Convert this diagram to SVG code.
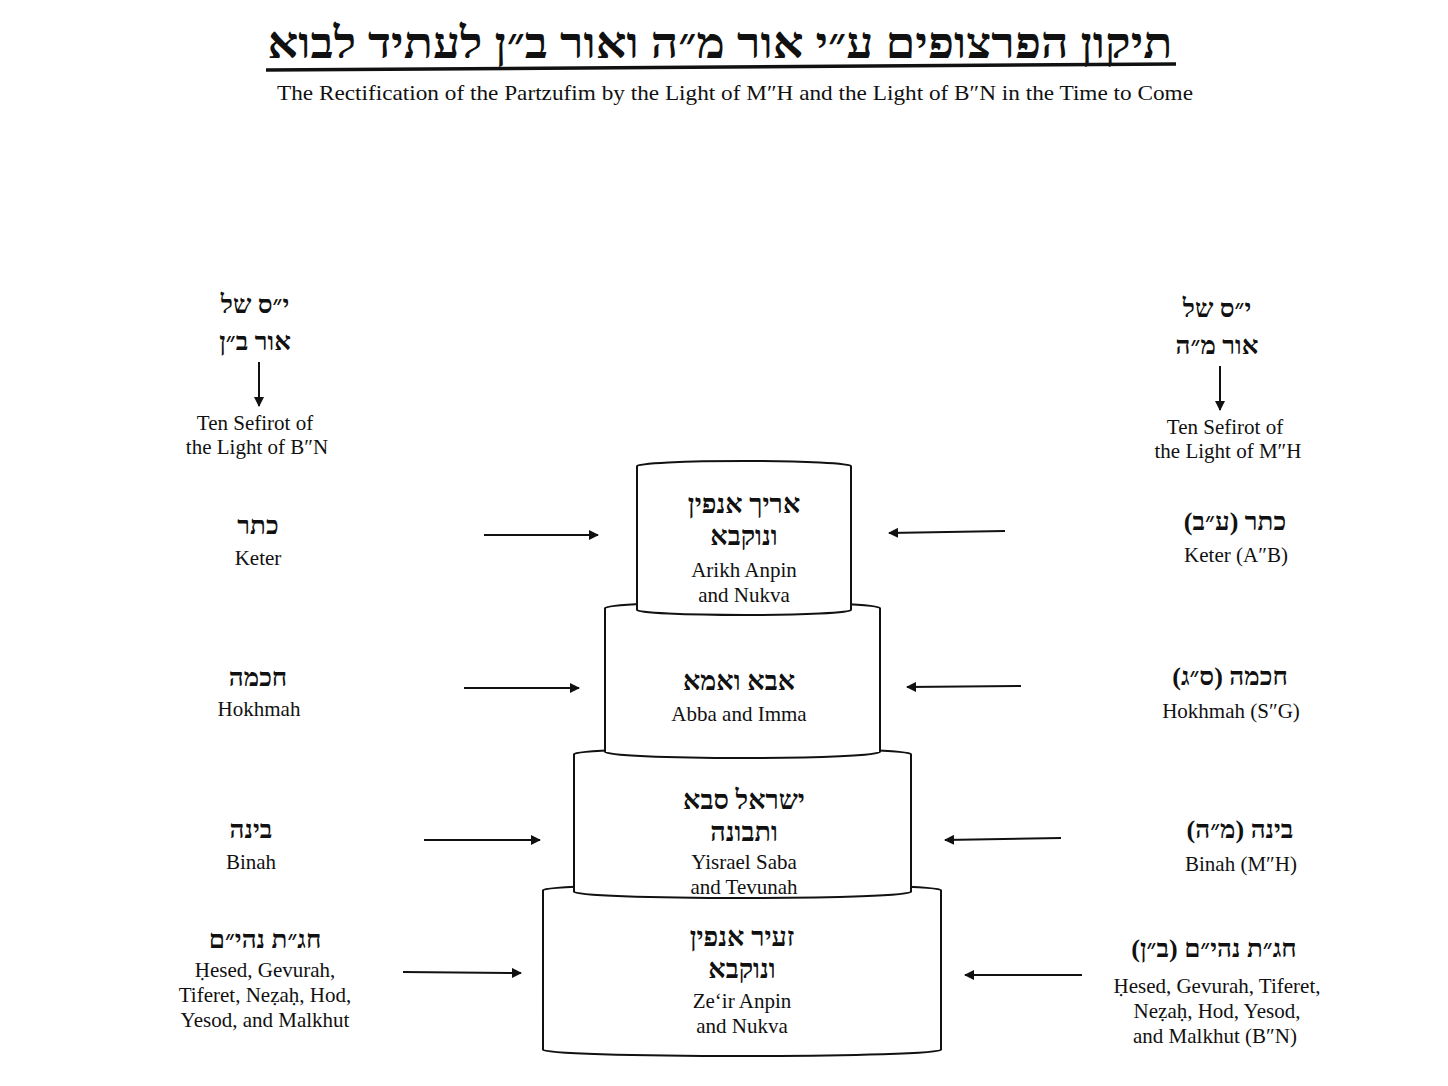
<svg xmlns="http://www.w3.org/2000/svg" width="1448" height="1086" viewBox="0 0 1448 1086">
<style>
text{font-family:"Liberation Serif","DejaVu Serif",serif;fill:#111;text-anchor:middle}
.he{font-size:27px;font-weight:bold;direction:rtl}
.hes{font-size:26px;font-weight:bold;direction:rtl}
.en{font-size:21px}
.cyl{fill:#fff;stroke:#111;stroke-width:2}
.ar{stroke:#111;stroke-width:2;fill:none;marker-end:url(#ah)}
</style>
<defs><marker id="ah" markerWidth="10" markerHeight="10" refX="9" refY="5" orient="auto" markerUnits="userSpaceOnUse"><path d="M0,0 L10,5 L0,10 z" fill="#111"/></marker></defs>
<rect width="1448" height="1086" fill="#fff"/>
<g id="title">
<text x="720" y="58" textLength="905" lengthAdjust="spacingAndGlyphs" style="font-size:44px;font-weight:bold;direction:rtl">תיקון הפרצופים ע״י אור מ״ה ואור ב״ן לעתיד לבוא</text>
<line x1="266" y1="70" x2="1176" y2="64" stroke="#111" stroke-width="3.5"/>
<text x="735" y="100" textLength="916" lengthAdjust="spacingAndGlyphs" style="font-size:21px">The Rectification of the Partzufim by the Light of M″H and the Light of B″N in the Time to Come</text>
</g>
<g id="tier4"><path class="cyl" d="M543,890 A199,6 0 0 1 941,890 L941,1050 A199,6 0 0 1 543,1050 Z"/>
<text class="he" x="742" y="946">זעיר אנפין</text><text class="he" x="742" y="978">ונוקבא</text>
<text class="en" x="742" y="1008">Ze‘ir Anpin</text><text class="en" x="742" y="1033">and Nukva</text></g>
<g id="tier3"><path class="cyl" d="M574,754 A168,6 0 0 1 911,754 L911,892 A168,6 0 0 1 574,892 Z"/>
<text class="he" x="744" y="809">ישראל סבא</text><text class="he" x="744" y="841">ותבונה</text>
<text class="en" x="744" y="869">Yisrael Saba</text><text class="en" x="744" y="894">and Tevunah</text></g>
<g id="tier2"><path class="cyl" d="M605,608 A137,6 0 0 1 880,608 L880,752 A137,6 0 0 1 605,752 Z"/>
<text class="he" x="739" y="690">אבא ואמא</text><text class="en" x="739" y="721">Abba and Imma</text></g>
<g id="tier1"><path class="cyl" d="M637,466 A107,5 0 0 1 851,466 L851,610 A107,5 0 0 1 637,610 Z"/>
<text class="he" x="744" y="513">אריך אנפין</text><text class="he" x="744" y="545">ונוקבא</text>
<text class="en" x="744" y="577">Arikh Anpin</text><text class="en" x="744" y="602">and Nukva</text></g>
<g id="leftHead"><text class="hes" x="255" y="313">י״ס של</text><text class="hes" x="255" y="350">אור ב״ן</text>
<text class="en" x="255" y="430">Ten Sefirot of</text><text class="en" x="257" y="454">the Light of B″N</text></g>
<g id="rightHead"><text class="hes" x="1217" y="317">י״ס של</text><text class="hes" x="1217" y="354">אור מ״ה</text>
<text class="en" x="1225" y="434">Ten Sefirot of</text><text class="en" x="1228" y="458">the Light of M″H</text></g>
<g id="l1"><text class="hes" x="258" y="534">כתר</text><text class="en" x="258" y="565">Keter</text></g>
<g id="l2"><text class="hes" x="258" y="686">חכמה</text><text class="en" x="259" y="716">Hokhmah</text></g>
<g id="l3"><text class="hes" x="251" y="838">בינה</text><text class="en" x="251" y="869">Binah</text></g>
<g id="l4"><text class="hes" x="265" y="948">חג״ת נהי״ם</text><text class="en" x="265" y="977">Ḥesed, Gevurah,</text><text class="en" x="265" y="1002">Tiferet, Neẓaḥ, Hod,</text><text class="en" x="265" y="1027">Yesod, and Malkhut</text></g>
<g id="r1"><text class="hes" x="1235" y="530">כתר (ע״ב)</text><text class="en" x="1236" y="562">Keter (A″B)</text></g>
<g id="r2"><text class="hes" x="1230" y="685">חכמה (ס״ג)</text><text class="en" x="1231" y="718">Hokhmah (S″G)</text></g>
<g id="r3"><text class="hes" x="1240" y="838">בינה (מ״ה)</text><text class="en" x="1241" y="871">Binah (M″H)</text></g>
<g id="r4"><text class="hes" x="1214" y="957">חג״ת נהי״ם (ב״ן)</text><text class="en" x="1217" y="993">Ḥesed, Gevurah, Tiferet,</text><text class="en" x="1217" y="1018">Neẓaḥ, Hod, Yesod,</text><text class="en" x="1215" y="1043">and Malkhut (B″N)</text></g>
<g id="connectors">
<line class="ar" x1="259" y1="362" x2="259" y2="406"/>
<line class="ar" x1="1220" y1="366" x2="1220" y2="410"/>
<line class="ar" x1="484" y1="535" x2="598" y2="535"/>
<line class="ar" x1="464" y1="688" x2="579" y2="688"/>
<line class="ar" x1="424" y1="840" x2="540" y2="840"/>
<line class="ar" x1="403" y1="972" x2="521" y2="973"/>
<line class="ar" x1="1005" y1="531" x2="889" y2="533"/>
<line class="ar" x1="1021" y1="686" x2="907" y2="687"/>
<line class="ar" x1="1061" y1="838" x2="945" y2="840"/>
<line class="ar" x1="1082" y1="975" x2="965" y2="975"/>
</g>
</svg>
